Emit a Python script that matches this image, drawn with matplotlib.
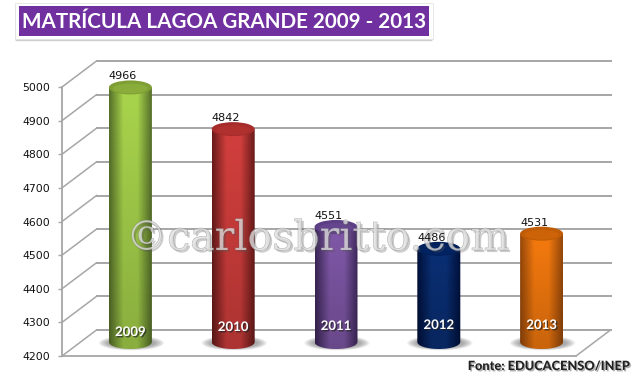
import numpy as np
import matplotlib
matplotlib.use('Agg')
import matplotlib.pyplot as plt
import matplotlib.patheffects as pe
from matplotlib.colors import LinearSegmentedColormap
from matplotlib.patches import Ellipse, Rectangle, FancyBboxPatch, PathPatch
from matplotlib.path import Path

years = ['2009', '2010', '2011', '2012', '2013']
values = [4966, 4842, 4551, 4486, 4531]
y_ticks = [4200, 4300, 4400, 4500, 4600, 4700, 4800, 4900, 5000]
title = 'MATRÍCULA LAGOA GRANDE 2009 - 2013'
source = 'Fonte: EDUCACENSO/INEP'
watermark = '©carlosbritto.com'

# edge, centre, top cap
bar_colors = [('#56702a', '#a8d44c', '#7f9f35'),
              ('#681b1a', '#d23f3d', '#a52c2a'),
              ('#3a2656', '#8058a8', '#5d3f85'),
              ('#00103a', '#0a2f74', '#00205c'),
              ('#96480a', '#f57a0e', '#c05c06')]
year_y_px = [332, 327, 326, 325, 325]

W, H = 642, 390
fig = plt.figure(figsize=(W / 100, H / 100), dpi=100)
# axes is the front plane of the 3d box, everything else hangs off it
ax = fig.add_axes([62 / W, 1 - 356 / H, (576 - 62) / W, (356 - 87) / H], zorder=1)
ax.set_xlim(0, 5)
ax.set_ylim(4200, 5000)
ax.patch.set_alpha(0)

px_x = 5 / (576 - 62)
px_y = 800 / (356 - 87)
depth_x = 34.5 * px_x
depth_y = 26 * px_y

for s in ['top', 'right']:
    ax.spines[s].set_visible(False)
for s in ['left', 'bottom']:
    ax.spines[s].set_color('#a6a6a6')
    ax.spines[s].set_linewidth(1.3)
ax.set_xticks([])
ax.set_yticks(y_ticks)
ax.tick_params(axis='y', length=3, width=1, color='#a6a6a6', labelsize=7.8, pad=5.5, labelcolor='#111111')

grid = '#a6a6a6'
for v in y_ticks:
    ax.plot([depth_x, 5 + depth_x], [v + depth_y, v + depth_y], color=grid, lw=1.4, clip_on=False, zorder=1)
    ax.plot([0, depth_x], [v, v + depth_y], color=grid, lw=1.1, clip_on=False, zorder=1)
ax.plot([5, 5 + depth_x], [4200, 4200 + depth_y], color=grid, lw=1.1, clip_on=False, zorder=1)

# watermark sits above the bars, value labels above the watermark
wm = fig.add_axes([0, 0, 1, 1], zorder=2)
wm.set_xlim(0, W)
wm.set_ylim(H, 0)
wm.axis('off')
over = fig.add_axes([0, 0, 1, 1], zorder=3)
over.set_xlim(0, W)
over.set_ylim(H, 0)
over.axis('off')

bar_w = 43 * px_x
cap_h = 14 * px_y
for i, (yr, val) in enumerate(zip(years, values)):
    cx = i + 0.5 + 17 * px_x
    base = 4200 + 14 * px_y
    top = val + 11 * px_y
    edge, mid, cap = bar_colors[i]
    # floor shadow
    for k in range(8):
        ax.add_patch(Ellipse((cx + 1 * px_x, base - 1 * px_y), bar_w * (1.52 - k * 0.06), cap_h * (1.05 - k * 0.05),
                             fc='#555555', ec='none', alpha=0.08, zorder=2, clip_on=False))
    # cylinder body, gradient clipped to a rounded-bottom path
    x0, x1 = cx - bar_w / 2, cx + bar_w / 2
    cm = LinearSegmentedColormap.from_list('b' + yr, [edge, mid, mid, edge])
    rgb = cm(np.linspace(0, 1, 128))[:, :3]
    fade = np.linspace(1.0, 0.82, 100).reshape(-1, 1, 1)
    grad = rgb[None, :, :] * fade
    im = ax.imshow(grad, extent=[x0, x1, base - cap_h / 2, top], aspect='auto', zorder=3)
    t = np.linspace(np.pi, 2 * np.pi, 40)
    verts = [(x0, top)] + [(cx + bar_w / 2 * np.cos(a), base + cap_h / 2 * np.sin(a)) for a in t] + [(x1, top), (x0, top)]
    body = PathPatch(Path(verts), fc='none', ec='none', transform=ax.transData, clip_on=False)
    ax.add_patch(body)
    im.set_clip_path(body)
    ax.add_patch(Ellipse((cx, top), bar_w, cap_h, fc=cap, ec='none', zorder=4, clip_on=False))
    ax.add_patch(Ellipse((cx, top - 1 * px_y), bar_w * 0.8, cap_h * 0.7, fc=mid, ec='none', alpha=0.25, zorder=4,
                         clip_on=False))
    over.text(cx - 7.5 * px_x, top + cap_h / 2 + 4 * px_y, str(val), ha='center', va='center', fontsize=8,
              color='#111111', transform=ax.transData)
    over.text(cx, 4200 + (356 - year_y_px[i]) * px_y, yr, ha='center', va='center', fontsize=9.5, color='white',
              family='Lato', weight='bold', transform=ax.transData,
              path_effects=[pe.withSimplePatchShadow(offset=(1, -1), shadow_rgbFace='#222222', alpha=0.7)])

ax.set_xlim(0, 5)
ax.set_ylim(4200, 5000)

# title card, drawn in figure pixels
for k in range(4):
    over.add_patch(FancyBboxPatch((15, 4 + k * 0.5), 418, 36, boxstyle='round,pad=0,rounding_size=2',
                                  fc='#555555', ec='none', alpha=0.12))
over.add_patch(Rectangle((15, 3), 418, 36, fc='white', ec='#e4e4e4', lw=0.6))
over.add_patch(Rectangle((19, 6), 410, 30, fc='#7030a0', ec='none'))
over.text(224, 21.5, title, ha='center', va='center', fontsize=14.9, color='white', family='Lato', weight='bold')
over.text(630, 366, source, ha='right', va='center', fontsize=9.2, color='#222222', family='Lato', weight='black',
          path_effects=[pe.withSimplePatchShadow(offset=(1, -1), shadow_rgbFace='#777777', alpha=0.6)])

# embossed watermark
wm.text(126, 250, watermark, ha='left', va='baseline', fontsize=29.6, family='DejaVu Serif',
        color=(0.88, 0.88, 0.88, 0.4),
        path_effects=[pe.withSimplePatchShadow(offset=(1.5, -1.5), shadow_rgbFace='#555555', alpha=0.3),
                      pe.Stroke(linewidth=0.5, foreground=(0.35, 0.35, 0.35, 0.4)), pe.Normal()])

fig.savefig('out.png', dpi=100)
